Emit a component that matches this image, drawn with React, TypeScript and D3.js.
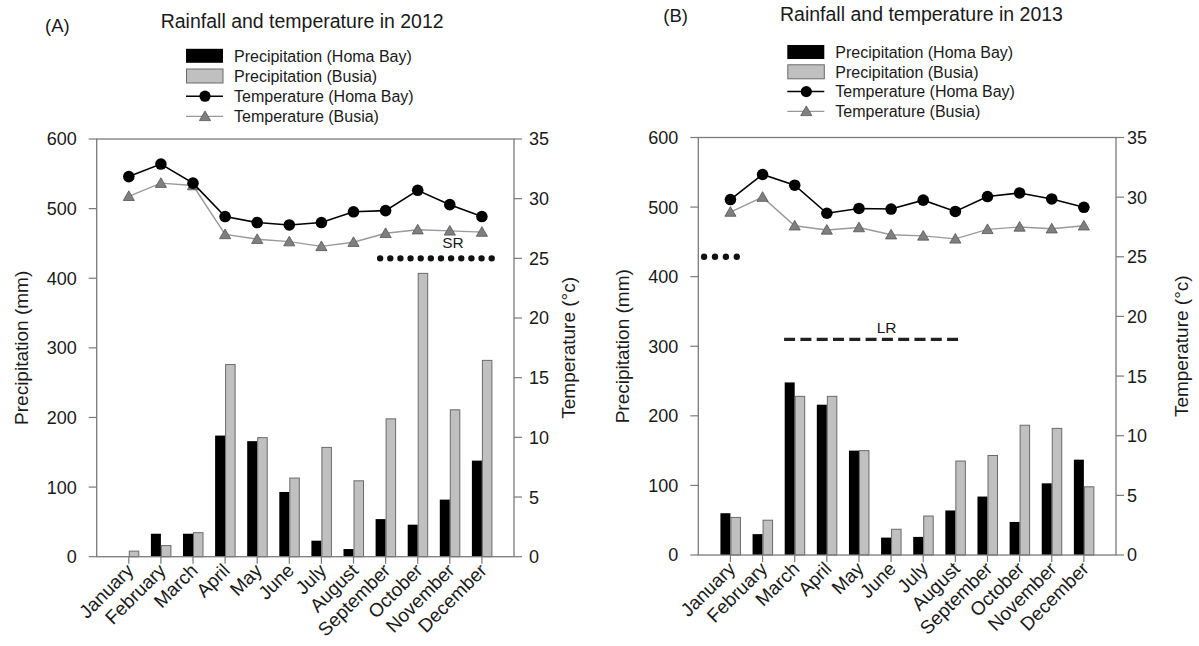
import React from "react";
import * as d3 from "d3";

const months = ["January", "February", "March", "April", "May", "June", "July", "August", "September", "October", "November", "December"];

const precipHomaBay2012 = [0, 33, 33, 174, 166, 93, 23, 11, 54, 46, 82, 138];
const precipBusia2012 = [8, 16, 34.5, 276, 171, 113, 157, 109, 198, 407, 211, 282];
const tempHomaBay2012 = [31.85, 32.9, 31.3, 28.5, 28.0, 27.8, 28.0, 28.9, 29.0, 30.7, 29.5, 28.5];
const tempBusia2012 = [30.2, 31.3, 31.1, 27.0, 26.6, 26.4, 26.0, 26.35, 27.1, 27.4, 27.3, 27.2];

const precipHomaBay2013 = [60, 30, 248, 216, 150, 25, 26, 64, 84, 47.5, 103, 137];
const precipBusia2013 = [54, 50, 228, 228, 150, 37, 56, 135, 143, 186.5, 182, 98];
const tempHomaBay2013 = [29.8, 31.9, 31.0, 28.65, 29.05, 29.0, 29.75, 28.8, 30.05, 30.35, 29.85, 29.15];
const tempBusia2013 = [28.75, 30.0, 27.6, 27.25, 27.45, 26.85, 26.75, 26.5, 27.3, 27.5, 27.35, 27.6];

const precipTicks = [0, 100, 200, 300, 400, 500, 600];
const tempTicks = [0, 5, 10, 15, 20, 25, 30, 35];

const legendLabels = ["Precipitation (Homa Bay)", "Precipitation (Busia)", "Temperature (Homa Bay)", "Temperature (Busia)"];

// season markers: start / end month index and level
const season2012 = { label: "SR", start: 7.83, end: 11.62, level: 25, labelAt: 10.1, labelLevel: 26.3 };
const dryDots2013 = { start: -0.82, end: 0.2, level: 25 };
const season2013 = { label: "LR", start: 1.67, end: 7.09, level: 310, labelAt: 4.86, labelLevel: 327 };

const FONT = "'Liberation Sans', Arial, Helvetica, sans-serif";
const AXIS = "#7a7a7a";
const TEXT = "#1a1a1a";
const GRAY_FILL = "#c0c0c0";
const GRAY_STROKE = "#6a6a6a";
const TRI_FILL = "#7f7f7f";
const TRI_STROKE = "#555";

type Box = { left: number; right: number; top: number; bottom: number };

function Panel(props: {
  box: Box;
  tag: string;
  tagX: number;
  tagY: number;
  title: string;
  titleX: number;
  titleY: number;
  legX: number;
  legY: number;
  legStep: number;
  pHB: number[];
  pBu: number[];
  tHB: number[];
  tBu: number[];
  leftTitleX: number;
  rightTitleX: number;
  rightGap: number;
  children?: (x: d3.ScaleLinear<number, number>, yP: d3.ScaleLinear<number, number>, yT: d3.ScaleLinear<number, number>) => React.ReactNode;
}) {
  const { box } = props;
  const x = d3.scaleLinear().domain([-1, 12]).range([box.left, box.right]);
  const yP = d3.scaleLinear().domain([0, 600]).range([box.bottom, box.top]);
  const yT = d3.scaleLinear().domain([0, 35]).range([box.bottom, box.top]);
  const line = d3.line<number>().x((_, i) => x(i)).y((d) => yT(d));
  const tri = d3.symbol().type(d3.symbolTriangle).size(54)() as string;
  const barW = 10;
  const midY = (box.top + box.bottom) / 2;
  const lx = props.legX;
  const ly = (i: number) => props.legY + i * props.legStep;

  return (
    <g fontFamily={FONT} fill={TEXT}>
      <text x={props.tagX} y={props.tagY} fontSize={18.5}>{props.tag}</text>
      <text x={props.titleX} y={props.titleY} fontSize={19.5}>{props.title}</text>

      {/* legend */}
      <rect x={lx} y={ly(0) - 7} width={37} height={14} fill="#000" />
      <rect x={lx + 0.5} y={ly(1) - 7} width={36.5} height={14} fill={GRAY_FILL} stroke={GRAY_STROKE} strokeWidth={1} />
      <line x1={lx} x2={lx + 37} y1={ly(2)} y2={ly(2)} stroke="#000" strokeWidth={1.5} />
      <circle cx={lx + 19} cy={ly(2)} r={5.6} fill="#000" />
      <line x1={lx} x2={lx + 37} y1={ly(3)} y2={ly(3)} stroke="#999" strokeWidth={1.3} />
      <path d={tri} transform={`translate(${lx + 19},${ly(3) + 1})`} fill={TRI_FILL} stroke={TRI_STROKE} strokeWidth={0.8} />
      {legendLabels.map((t, i) => (
        <text key={t} x={lx + 48} y={ly(i) + 5.8} fontSize={16}>{t}</text>
      ))}

      {/* bars */}
      {props.pHB.map((v, i) => (
        v > 0 ? <rect key={"hb" + i} x={x(i) - barW} y={yP(v)} width={barW} height={yP(0) - yP(v)} fill="#000" /> : null
      ))}
      {props.pBu.map((v, i) => (
        <rect key={"bu" + i} x={x(i) + 0.5} y={yP(v)} width={barW - 0.5} height={yP(0) - yP(v)} fill={GRAY_FILL} stroke={GRAY_STROKE} strokeWidth={1} />
      ))}

      {/* frame */}
      <rect x={box.left} y={box.top} width={box.right - box.left} height={box.bottom - box.top} fill="none" stroke={AXIS} strokeWidth={1.3} />

      {/* left ticks */}
      {precipTicks.map((t) => (
        <g key={"pt" + t}>
          <line x1={box.left - 8} x2={box.left} y1={yP(t)} y2={yP(t)} stroke={AXIS} strokeWidth={1.2} />
          <text x={box.left - 20} y={yP(t)} dy="0.36em" textAnchor="end" fontSize={18}>{t}</text>
        </g>
      ))}
      {/* right ticks */}
      {tempTicks.map((t) => (
        <g key={"tt" + t}>
          <line x1={box.right} x2={box.right + 8} y1={yT(t)} y2={yT(t)} stroke={AXIS} strokeWidth={1.2} />
          <text x={box.right + props.rightGap} y={yT(t)} dy="0.36em" textAnchor="start" fontSize={18}>{t}</text>
        </g>
      ))}
      {/* month ticks and labels */}
      {months.map((m, i) => {
        const ax = x(i) + 6;
        const ay = box.bottom + 15;
        return (
          <g key={m}>
            <line x1={x(i)} x2={x(i)} y1={box.bottom} y2={box.bottom + 7} stroke={AXIS} strokeWidth={1.2} />
            <text x={ax} y={ay} textAnchor="end" fontSize={19} transform={`rotate(-45, ${ax}, ${ay})`}>
              {m}
            </text>
          </g>
        );
      })}

      {/* axis titles */}
      <text transform={`translate(${props.leftTitleX},${midY}) rotate(-90)`} textAnchor="middle" fontSize={19}>Precipitation (mm)</text>
      <text transform={`translate(${props.rightTitleX},${midY}) rotate(-90)`} textAnchor="middle" fontSize={19}>Temperature (°c)</text>

      {/* temperature lines */}
      <path d={line(props.tBu) as string} fill="none" stroke="#999" strokeWidth={1.4} />
      {props.tBu.map((v, i) => (
        <path key={"tb" + i} d={tri} transform={`translate(${x(i)},${yT(v) + 1})`} fill={TRI_FILL} stroke={TRI_STROKE} strokeWidth={0.8} />
      ))}
      <path d={line(props.tHB) as string} fill="none" stroke="#000" strokeWidth={1.6} />
      {props.tHB.map((v, i) => (
        <circle key={"th" + i} cx={x(i)} cy={yT(v)} r={5.8} fill="#000" />
      ))}

      {props.children ? props.children(x, yP, yT) : null}
    </g>
  );
}

export default function App() {
  return (
    <svg width={1199} height={646} style={{ display: "block", position: "absolute", left: 0, top: 0 }}>
      <rect width={1199} height={646} fill="#fff" />
      <Panel
        box={{ left: 96.7, right: 514, top: 139, bottom: 556.7 }}
        tag="(A)"
        tagX={45}
        tagY={32}
        title="Rainfall and temperature in 2012"
        titleX={160.7}
        titleY={28}
        legX={186}
        legY={55.8}
        legStep={20.2}
        pHB={precipHomaBay2012}
        pBu={precipBusia2012}
        tHB={tempHomaBay2012}
        tBu={tempBusia2012}
        leftTitleX={28}
        rightTitleX={575}
        rightGap={15}
      >
        {(x, yP, yT) => (
          <g>
            <line
              x1={x(season2012.start)}
              x2={x(season2012.end)}
              y1={yT(season2012.level)}
              y2={yT(season2012.level)}
              stroke="#111"
              strokeWidth={6.4}
              strokeLinecap="round"
              strokeDasharray="0 10.14"
            />
            <text x={x(season2012.labelAt)} y={yT(season2012.labelLevel)} dy="0.36em" textAnchor="middle" fontSize={15.5}>{season2012.label}</text>
          </g>
        )}
      </Panel>
      <Panel
        box={{ left: 698.3, right: 1116, top: 137.5, bottom: 555 }}
        tag="(B)"
        tagX={663.3}
        tagY={22}
        title="Rainfall and temperature in 2013"
        titleX={780}
        titleY={21}
        legX={787.3}
        legY={52}
        legStep={19.8}
        pHB={precipHomaBay2013}
        pBu={precipBusia2013}
        tHB={tempHomaBay2013}
        tBu={tempBusia2013}
        leftTitleX={629}
        rightTitleX={1188}
        rightGap={11}
      >
        {(x, yP, yT) => (
          <g>
            <line
              x1={x(dryDots2013.start)}
              x2={x(dryDots2013.end)}
              y1={yT(dryDots2013.level)}
              y2={yT(dryDots2013.level)}
              stroke="#111"
              strokeWidth={6.4}
              strokeLinecap="round"
              strokeDasharray="0 10.9"
            />
            <line
              x1={x(season2013.start)}
              x2={x(season2013.end)}
              y1={yP(season2013.level)}
              y2={yP(season2013.level)}
              stroke="#222"
              strokeWidth={3.3}
              strokeDasharray="11 5.3"
            />
            <text x={x(season2013.labelAt)} y={yP(season2013.labelLevel)} dy="0.36em" textAnchor="middle" fontSize={15.5}>{season2013.label}</text>
          </g>
        )}
      </Panel>
    </svg>
  );
}
